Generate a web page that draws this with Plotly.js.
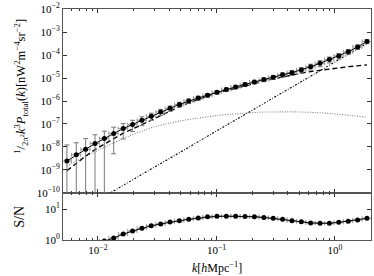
<!DOCTYPE html>
<html>
<head>
<meta charset="utf-8">
<script src="https://cdn.plot.ly/plotly-3.0.1.min.js"></script>
<style>html,body{margin:0;padding:0;background:#fff;}#chart{width:374px;height:276px;}</style>
</head>
<body>
<div id="chart"></div>
<script>
// k bin centres [h/Mpc]
var k = [0.00547,0.00656,0.00787,0.00944,0.01132,0.01358,0.01633,0.01959,0.02350,0.02818,
         0.03381,0.04055,0.04864,0.05834,0.07015,0.08414,0.1009,0.1211,0.1452,0.1742,
         0.2089,0.2512,0.3013,0.3614,0.4335,0.5200,0.6237,0.7482,0.8974,1.076,
         1.294,1.552,1.862];
// total power (points + solid line)
var pTotal = [2.45e-9,4.57e-9,7.94e-9,1.41e-8,2.34e-8,3.89e-8,6.31e-8,9.55e-8,1.45e-7,2.19e-7,
              3.31e-7,4.79e-7,7.08e-7,1.00e-6,1.35e-6,1.78e-6,2.40e-6,3.16e-6,4.07e-6,5.25e-6,
              6.76e-6,8.51e-6,1.07e-5,1.38e-5,1.70e-5,2.24e-5,3.09e-5,4.37e-5,6.31e-5,9.12e-5,
              1.38e-4,2.24e-4,3.89e-4];
// dashed component
var pDashed = [9.33e-10,1.95e-9,3.98e-9,7.76e-9,1.35e-8,2.34e-8,3.98e-8,6.03e-8,9.55e-8,1.51e-7,
               2.40e-7,3.63e-7,5.62e-7,8.32e-7,1.17e-6,1.58e-6,2.19e-6,2.82e-6,3.63e-6,4.68e-6,
               6.03e-6,7.41e-6,9.12e-6,1.12e-5,1.35e-5,1.62e-5,1.91e-5,2.19e-5,2.51e-5,2.82e-5,
               3.09e-5,3.39e-5,3.72e-5];
// dotted component
var pDotted = [1.51e-9,2.51e-9,3.98e-9,6.31e-9,1.00e-8,1.55e-8,2.34e-8,3.47e-8,5.01e-8,6.92e-8,
               8.91e-8,1.12e-7,1.35e-7,1.58e-7,1.82e-7,2.09e-7,2.34e-7,2.57e-7,2.82e-7,3.02e-7,
               3.16e-7,3.31e-7,3.39e-7,3.39e-7,3.39e-7,3.31e-7,3.24e-7,3.09e-7,2.88e-7,2.69e-7,
               2.45e-7,2.19e-7,1.95e-7];
// dash-dot component (shot noise)
var pShot = [8.13e-12,1.41e-11,2.40e-11,4.17e-11,7.24e-11,1.26e-10,2.14e-10,3.72e-10,6.46e-10,1.12e-9,
             1.91e-9,3.31e-9,5.75e-9,9.77e-9,1.70e-8,2.95e-8,5.13e-8,8.71e-8,1.51e-7,2.63e-7,
             4.57e-7,7.76e-7,1.35e-6,2.34e-6,3.98e-6,6.92e-6,1.20e-5,2.09e-5,3.55e-5,6.17e-5,
             1.07e-4,1.86e-4,3.16e-4];
// signal to noise
var sn = [0.25,0.43,0.52,0.71,0.92,1.15,1.55,1.95,2.40,2.88,
          3.31,3.80,4.17,4.68,5.13,5.62,5.82,5.89,5.89,5.75,
          5.62,5.37,5.01,4.68,4.17,3.89,3.55,3.47,3.47,3.72,
          4.07,4.47,5.01];
// tick labels
var xTickVals = [0.01, 0.1, 1];
var xTickText = ['10<sup>−2</sup>','10<sup>−1</sup>','10<sup>0</sup>'];
var snTickVals = [1, 10];
var snTickText = ['10<sup>0</sup>','10<sup>1</sup>'];
var yTickVals = [1e-10,1e-9,1e-8,1e-7,1e-6,1e-5,1e-4,1e-3,1e-2];
var yTickText = ['10<sup>−10</sup>','10<sup>−9</sup>','10<sup>−8</sup>','10<sup>−7</sup>','10<sup>−6</sup>',
                 '10<sup>−5</sup>','10<sup>−4</sup>','10<sup>−3</sup>','10<sup>−2</sup>'];

var sigma = pTotal.map(function(p,i){return p/sn[i];});

var serif = 'Liberation Serif, DejaVu Serif, serif';
var traces = [
  {x:k, y:pShot, xaxis:'x2', yaxis:'y', mode:'lines',
   line:{color:'#000', width:1.1, dash:'2px,1.6px,0.8px,1.6px'}, hoverinfo:'skip'},
  {x:k, y:pDotted, xaxis:'x2', yaxis:'y', mode:'lines',
   line:{color:'#808080', width:1.1, dash:'1px,1.5px'}, hoverinfo:'skip'},
  {x:k, y:pDashed, xaxis:'x2', yaxis:'y', mode:'lines',
   line:{color:'#000', width:1.3, dash:'5px,3px'}, hoverinfo:'skip'},
  {x:k, y:pTotal, xaxis:'x2', yaxis:'y', mode:'lines+markers',
   line:{color:'#000', width:1}, marker:{color:'#000', size:5},
   error_y:{type:'data', array:sigma, color:'#777', thickness:1, width:2.5},
   error_x:{type:'percent', value:9, color:'#999', thickness:1, width:2}},
  {x:k, y:sn, xaxis:'x', yaxis:'y2', mode:'lines+markers',
   line:{color:'#000', width:1}, marker:{color:'#000', size:5},
   error_x:{type:'percent', value:9, color:'#999', thickness:1, width:2}}
];

var axCommon = {type:'log', showgrid:false, zeroline:false, ticks:'inside', ticklen:4,
  tickwidth:1, tickcolor:'#333', showline:true, linecolor:'#555', linewidth:1, mirror:'ticks',
  tickfont:{family:serif, size:11, color:'#000'}};

var xr = [-2.295, 0.304];
var minorX = {ticks:'inside', ticklen:2, tickcolor:'#333', dtick:'D1'};
var layout = {
  width:374, height:276, margin:{l:63, r:3, t:9, b:36},
  paper_bgcolor:'#fff', plot_bgcolor:'#fff', showlegend:false,
  font:{family:serif, color:'#000'},
  xaxis: Object.assign({}, axCommon, {range:xr, tickmode:'array', tickvals:xTickVals, ticktext:xTickText,
    anchor:'y2', minor:minorX}),
  xaxis2: Object.assign({}, axCommon, {range:xr, tickmode:'array', tickvals:xTickVals, ticktext:xTickText,
    anchor:'y', matches:'x', showticklabels:false, minor:minorX}),
  yaxis: Object.assign({}, axCommon, {range:[-10,-2], tickmode:'array', tickvals:yTickVals, ticktext:yTickText,
    domain:[0.2035,1], anchor:'x2'}),
  yaxis2: Object.assign({}, axCommon, {range:[0,1.52], tickmode:'array', tickvals:snTickVals, ticktext:snTickText,
    domain:[0,0.2035], anchor:'x'}),
  annotations:[
    {xref:'paper', yref:'paper', x:-0.135, y:0.665, xanchor:'center', yanchor:'middle', textangle:-90,
     showarrow:false, font:{family:serif, size:12.5, color:'#000'},
     text:'<sup>1</sup>/<sub>2π<sup>2</sup></sub><i>k</i><sup>3</sup><i>P</i><sub>total</sub>(<i>k</i>)[nW<sup>2</sup>m<sup>−4</sup>sr<sup>−2</sup>]'},
    {xref:'paper', yref:'paper', x:-0.14, y:0.10, xanchor:'center', yanchor:'middle', textangle:-90,
     showarrow:false, font:{family:serif, size:14, color:'#000'}, text:'S/N'},
    {xref:'paper', yref:'paper', x:0.5, y:-0.12, xanchor:'center', yanchor:'middle',
     showarrow:false, font:{family:serif, size:12, color:'#000'},
     text:'<i>k</i>[<i>h</i>Mpc<sup>−1</sup>]'}
  ]
};
Plotly.newPlot('chart', traces, layout, {staticPlot:true, displayModeBar:false});
</script>
</body>
</html>
